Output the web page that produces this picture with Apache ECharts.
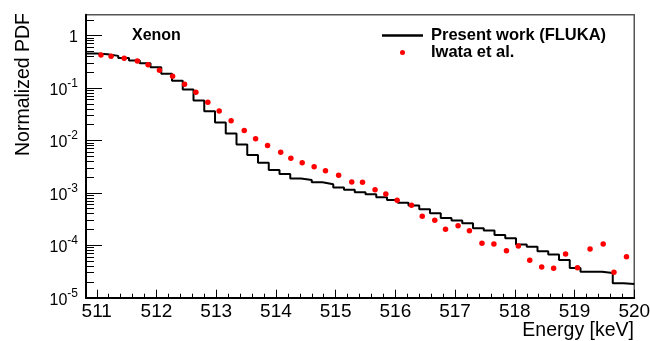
<!DOCTYPE html>
<html><head><meta charset="utf-8">
<script src="https://cdn.jsdelivr.net/npm/echarts@6/dist/echarts.min.js"></script>
<style>html,body{margin:0;padding:0;background:#fff}#c{width:650px;height:341px}</style>
</head><body><div id="c"></div>
<script>
// Histogram binning of the FLUKA result
const binStart = 510.82;
const binWidth = 0.18;
// FLUKA histogram contents (one value per bin)
const flukaPdf = [0.453, 0.442, 0.410, 0.375, 0.336, 0.295, 0.249, 0.1875, 0.138, 0.0936,
  0.058, 0.0362, 0.0219, 0.0135, 0.00836, 0.00529, 0.00377, 0.00274, 0.0023, 0.00187,
  0.00176, 0.00159, 0.00146, 0.00126, 0.00114, 0.00103, 0.00094, 0.00082, 0.00073, 0.00065,
  0.000575, 0.000486, 0.000408, 0.000332, 0.000297, 0.000263, 0.000211, 0.000191, 0.000157, 0.000136,
  0.000104, 9.4e-5, 7.7e-5, 6.64e-5, 5.24e-5, 3.69e-5, 3.13e-5, 3.13e-5, 2.96e-5, 1.88e-5, 1.82e-5];
// Iwata et al. points
const iwataEnergy = [511.07, 511.24, 511.46, 511.68, 511.86, 512.05, 512.27, 512.47, 512.66, 512.86,
  513.05, 513.25, 513.47, 513.66, 513.86, 514.08, 514.25, 514.44, 514.64, 514.83,
  515.05, 515.27, 515.45, 515.66, 515.84, 516.03, 516.27, 516.45, 516.66, 516.84,
  517.05, 517.24, 517.45, 517.65, 517.86, 518.06, 518.25, 518.45, 518.65, 518.85,
  519.05, 519.26, 519.48, 519.66, 519.87];
const iwataPdf = [0.428, 0.404, 0.371, 0.329, 0.276, 0.219, 0.168, 0.118, 0.0832, 0.0536,
  0.0366, 0.0236, 0.0154, 0.0108, 0.00796, 0.00596, 0.00457, 0.00377, 0.00316, 0.00265,
  0.00217, 0.00161, 0.00159, 0.00115, 0.000953, 0.000722, 0.00058, 0.000357, 0.0003, 0.000202,
  0.000237, 0.00019, 0.000109, 0.000106, 7.9e-5, 9.7e-5, 5.17e-5, 3.85e-5, 3.64e-5, 6.82e-5,
  3.74e-5, 8.5e-5, 1.06e-4, 3.05e-5, 6.05e-5];
// Tick labels
const xTickLabels = [511, 512, 513, 514, 515, 516, 517, 518, 519, 520];
const yTickLabels = [1e-5, 1e-4, 1e-3, 1e-2, 1e-1, 1];
const xMin = 510.82, xMax = 520, yMin = 1e-5, yMax = 2.5;

const xMinor = [];
xTickLabels.slice(0, -1).forEach(m => { for (let k = 1; k <= 4; k++) xMinor.push(+(m + 0.2 * k).toFixed(2)); });
const yMinor = [];
for (let d = -5; d <= 0; d++) for (let k = 2; k <= 9; k++) { const v = +(k * Math.pow(10, d)).toPrecision(3); if (v <= yMax) yMinor.push(v); }

const histData = flukaPdf.map((v, i) => [binStart + i * binWidth, v]);
histData.push([binStart + flukaPdf.length * binWidth, flukaPdf[flukaPdf.length - 1]]);
const iwataData = iwataEnergy.map((e, i) => [e, iwataPdf[i]]);

const FONT = 'Liberation Sans, Arial, Helvetica, sans-serif';
const chart = echarts.init(document.getElementById('c'), null, {renderer: 'canvas'});
chart.setOption({
  animation: false,
  backgroundColor: '#fff',
  grid: {left: 86, right: 15.75, top: 14.7, bottom: 43.3, show: true, borderColor: '#555', borderWidth: 1.5,
    containLabel: false, outerBoundsMode: 'none'},
  legend: {
    orient: 'vertical', left: 382, top: 27, padding: 0, itemGap: 0, itemWidth: 41, itemHeight: 5,
    selectedMode: false,
    textStyle: {fontFamily: FONT, fontWeight: 'bold', fontSize: 16.5, color: '#000', lineHeight: 17, padding: [0, 0, 0, 3]},
    data: [{name: 'Present work (FLUKA)', icon: 'path://M0,0H40V2.4H0Z'},
           {name: 'Iwata et al.', icon: 'circle', itemStyle: {color: '#ff0000', opacity: 1}}]
  },
  xAxis: [{
    type: 'value', min: xMin, max: xMax, position: 'bottom',
    axisLine: {lineStyle: {color: '#000', width: 2}},
    axisTick: {inside: true, length: 8, customValues: xTickLabels, lineStyle: {color: '#000', width: 1}},
    axisLabel: {customValues: xTickLabels, margin: 5, fontSize: 19, color: '#000', fontFamily: FONT},
    splitLine: {show: false}
  }, {
    type: 'value', min: xMin, max: xMax, position: 'bottom',
    axisLine: {show: false},
    axisTick: {inside: true, length: 4, customValues: xMinor, lineStyle: {color: '#000', width: 1}},
    axisLabel: {show: false}, splitLine: {show: false}
  }],
  yAxis: [{
    type: 'log', logBase: 10, min: yMin, max: yMax, position: 'left',
    axisLine: {show: true, lineStyle: {color: '#000', width: 2}},
    axisTick: {show: true, inside: true, length: 16, customValues: yTickLabels, lineStyle: {color: '#000', width: 1}},
    axisLabel: {
      customValues: yTickLabels, margin: 8, color: '#000', fontFamily: FONT,
      formatter: v => { const e = Math.round(Math.log10(v)); return e === 0 ? '{b|1}' : '{b|10}{s|' + e + '}'; },
      rich: {
        b: {fontSize: 16, fontFamily: FONT, color: '#000', verticalAlign: 'bottom', lineHeight: 21},
        s: {fontSize: 12, fontFamily: FONT, color: '#000', verticalAlign: 'top', lineHeight: 21}
      }
    },
    splitLine: {show: false}
  }, {
    type: 'log', logBase: 10, min: yMin, max: yMax, position: 'left',
    axisLine: {show: false},
    axisTick: {show: true, inside: true, length: 8, customValues: yMinor, lineStyle: {color: '#000', width: 1}},
    axisLabel: {show: false}, splitLine: {show: false}
  }],
  series: [{
    name: 'Present work (FLUKA)', type: 'line', step: 'end', data: histData,
    xAxisIndex: 0, yAxisIndex: 0, symbol: 'none', showSymbol: false,
    lineStyle: {color: '#000', width: 2}, itemStyle: {color: '#000'}, z: 2
  }, {
    name: 'Iwata et al.', type: 'scatter', data: iwataData, xAxisIndex: 0, yAxisIndex: 0,
    symbol: 'circle', symbolSize: 5.5, itemStyle: {color: '#ff0000', opacity: 1}, z: 3
  }],
  graphic: [
    {type: 'text', x: 132, y: 35.5, style: {text: 'Xenon', font: 'bold 16px ' + FONT, fill: '#000', verticalAlign: 'middle'}},
    {type: 'text', x: 634, y: 331, style: {text: 'Energy [keV]', font: '19.5px ' + FONT, fill: '#000', align: 'right', verticalAlign: 'middle'}},
    {type: 'text', x: 24, y: 13, rotation: Math.PI / 2, style: {text: 'Normalized PDF', font: '19.5px ' + FONT, fill: '#000', align: 'right', verticalAlign: 'middle'}}
  ]
});
</script></body></html>
